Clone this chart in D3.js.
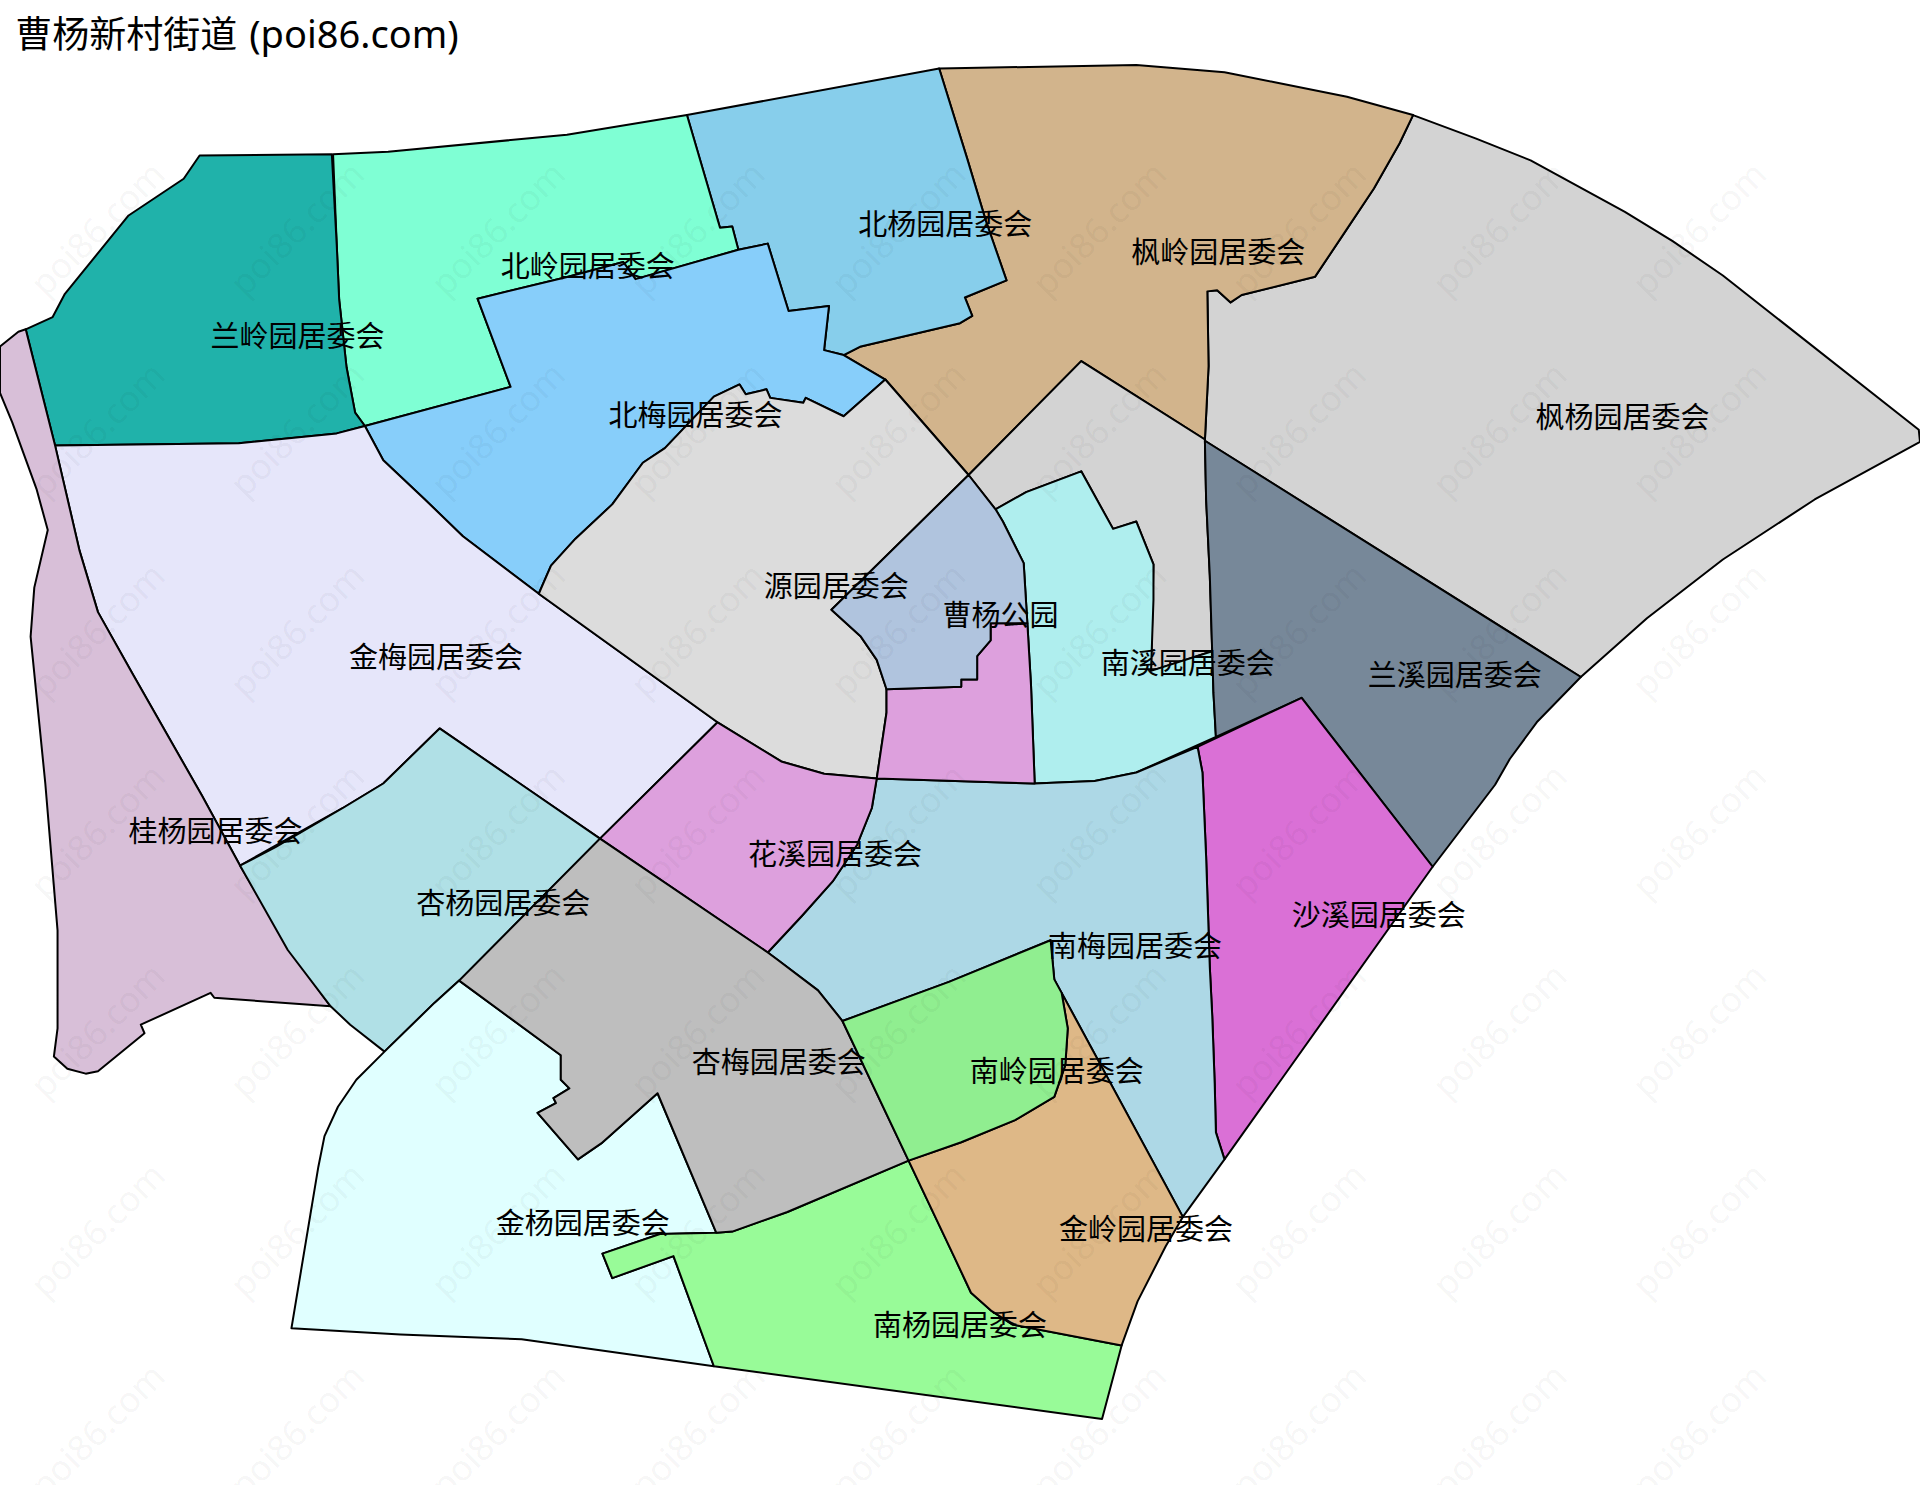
<!DOCTYPE html>
<html><head><meta charset="utf-8">
<script src="https://cdnjs.cloudflare.com/ajax/libs/d3/7.8.5/d3.min.js"></script>
<style>html,body{margin:0;padding:0;background:#fff}svg{display:block}</style>
</head><body><svg id="map" width="1920" height="1485"></svg>
<script>
const titleMain = "曹杨新村街道";
const titleSite = " (poi86.com)";
const watermarkText = "poi86.com";
const regionNames = ["枫杨","枫岭","灰","南溪","兰溪","沙溪","南梅","北杨","北岭","北梅","兰岭","金梅","桂杨","杏杨","源园","花溪","曹杨公园","金杨","南杨","杏梅","金岭","南岭"];
const fengyang=[[1154,94],[1205,113],[1250,131],[1327,173],[1366,197],[1407,225],[1567,351],[1568,361],[1482,408],[1407,457],[1345,505],[1291,553],[984,360],[987,299],[986,238],[994,237],[1005,247],[1014,241],[1074,226],[1098,190],[1122,154],[1143,117]];
const fengling=[[767,56],[928,53],[1000,59],[1040,67],[1100,79],[1154,94],[1143,117],[1122,154],[1098,190],[1074,226],[1014,241],[1005,247],[994,237],[986,238],[987,299],[984,359],[883,295],[791,388],[723,310],[689,290],[703,283],[784,264],[794,258],[788,243],[822,229],[805,180],[790,130]];
const huiqu=[[883,295],[984,359],[985,408],[988,470],[990,532],[940,548],[942,461],[928,426],[909,432],[883,385],[838,402],[813,416],[791,388]];
const nanxi=[[813,416],[838,402],[883,385],[909,432],[928,426],[942,461],[942,490],[940,548],[990,532],[991,566],[993,602],[928,631],[894,638],[845,640],[842,560],[839,509],[836,460],[819,426]];
const lanxi=[[984,360],[1291,553],[1255,590],[1233,620],[1221,641],[1170,708],[1063,570],[993,602],[991,566],[988,470],[985,408]];
const shaxi=[[1063,570],[1170,708],[1000,947],[993,925],[992,885],[990,830],[988,790],[985,700],[982,631],[978,610]];
const nanmei=[[716,636],[845,640],[894,638],[928,631],[978,610],[982,631],[985,700],[988,790],[990,830],[992,885],[993,925],[1000,947],[966,994],[867,811],[861,800],[858,768],[775,802],[688,834],[668,809],[635,784],[627,778],[655,748],[680,720],[700,690],[712,660]];
const beiyang=[[561,94],[767,56],[790,130],[805,180],[822,229],[788,243],[794,258],[784,264],[703,283],[689,290],[673,286],[677,250],[644,254],[627,199],[603,204],[598,185],[588,186]];
const beiling=[[272,126],[317,124],[463,110],[561,94],[588,186],[598,185],[603,204],[519,228],[509,214],[464,226],[390,244],[417,316],[298,348],[290,337],[283,300],[277,245],[275,200]];
const beimei=[[390,244],[464,226],[509,214],[519,228],[603,204],[627,199],[644,254],[677,250],[673,286],[689,290],[723,310],[689,340],[658,325],[656,329],[629,325],[626,318],[609,322],[604,314],[583,324],[543,366],[525,378],[500,412],[470,440],[450,462],[440,485],[378,438],[347,408],[313,376],[298,348],[417,316]];
const lanling=[[21,269],[43,259],[53,240],[105,176],[150,146],[163,127],[271,126],[275,200],[277,245],[283,300],[290,337],[298,348],[275,354],[195,362],[45,364]];
const jinmei=[[45,364],[195,362],[275,354],[298,348],[313,376],[347,408],[378,438],[440,485],[586,590],[490,685],[359,595],[313,640],[280,660],[196,707],[165,650],[108,550],[80,500],[65,450]];
const guiyang=[[21,269],[45,364],[65,450],[80,500],[108,550],[165,650],[196,707],[238,778],[270,822],[175,815],[172,811],[115,837],[118,844],[80,875],[70,877],[55,873],[44,863],[47,840],[47,760],[37,640],[25,520],[28,480],[39,433],[30,400],[10,345],[0,321],[0,283],[15,271]];
const xingyang=[[359,595],[490,685],[375,801],[355,819],[314,859],[286,837],[270,822],[235,776],[196,707],[225,692],[280,660],[313,640]];
const yuan=[[723,310],[791,388],[679,498],[703,520],[716,539],[724,563],[724,582],[716,636],[673,632],[638,622],[586,590],[440,485],[450,462],[470,440],[500,412],[525,378],[543,366],[583,324],[604,314],[609,322],[626,318],[629,325],[656,329],[658,325],[689,340]];
const huaxiA=[[586,590],[638,622],[673,632],[716,636],[712,660],[700,690],[680,720],[655,748],[627,778],[490,685]];
const huaxiB=[[724,563],[785,561],[785,555],[798,555],[798,536],[809,523],[809,509],[839,509],[842,560],[845,640],[716,636],[724,582]];
const park=[[791,388],[813,416],[819,426],[836,460],[839,509],[809,509],[809,523],[798,536],[798,555],[785,555],[785,561],[724,563],[716,539],[703,520],[679,498]];
const jinyang=[[375,801],[458,862],[458,882],[465,889],[452,897],[454,901],[439,909],[472,947],[491,934],[537,893],[585,1007],[539,1008],[492,1024],[500,1044],[550,1026],[583,1116],[426,1094],[327,1090],[238,1085],[260,953],[265,928],[276,904],[291,882],[314,859],[355,819]];
const nanyang=[[585,1007],[598,1006],[643,990],[742,948],[779,1026],[793,1056],[810,1071],[827,1082],[916,1099],[900,1159],[583,1116],[550,1026],[500,1044],[492,1024],[539,1008]];
const xingmei=[[490,685],[627,778],[635,784],[668,809],[688,834],[742,948],[643,990],[598,1006],[585,1007],[537,893],[491,934],[472,947],[439,909],[454,901],[452,897],[465,889],[458,882],[458,862],[375,801]];
const jinling=[[867,811],[966,994],[952,1018],[929,1063],[916,1099],[827,1082],[810,1071],[793,1056],[779,1026],[742,948],[785,933],[829,915],[861,896],[870,870],[872,840]];
const nanling=[[688,834],[775,802],[858,768],[861,800],[867,811],[872,840],[870,870],[861,896],[829,915],[785,933],[742,948]];
const regionRings=[[fengyang],[fengling],[huiqu],[nanxi],[lanxi],[shaxi],[nanmei],[beiyang],[beiling],[beimei],[lanling],[jinmei],[guiyang],[xingyang],[yuan],[huaxiA,huaxiB],[park],[jinyang],[nanyang],[xingmei],[jinling],[nanling]];
const regionColors=["#D3D3D3","#D2B48C","#D3D3D3","#AFEEEE","#778899","#DA70D6","#ADD8E6","#87CEEB","#7FFFD4","#87CEFA","#20B2AA","#E6E6FA","#D8BFD8","#B0E0E6","#DCDCDC","#DDA0DD","#B0C4DE","#E0FFFF","#98FB98","#BEBEBE","#DEB887","#90EE90"];
const labelNames=["兰岭园居委会","北岭园居委会","北杨园居委会","枫岭园居委会","枫杨园居委会","北梅园居委会","源园居委会","曹杨公园","南溪园居委会","兰溪园居委会","金梅园居委会","桂杨园居委会","花溪园居委会","杏杨园居委会","沙溪园居委会","南梅园居委会","杏梅园居委会","南岭园居委会","金杨园居委会","金岭园居委会","南杨园居委会"];
const labelX=[243,480,772,995,1325,568,683,817,970,1188,356,176,682,411,1126,927,636,863,476,936,784];
const labelY=[273,216,181,204,339,337,477,501,540,550,535,677,696,736,746,771,866,873,997,1002,1081];
const markX=[79,242,406,569,733,897,1060,1224,1387];
const markY=[186,350,514,678,841,1004,1168];

const x=d3.scaleLinear().domain([0,1568]).range([0,1920]);
const y=d3.scaleLinear().domain([0,1213]).range([0,1485]);
const line=d3.line().x(d=>x(d[0])).y(d=>y(d[1])).curve(d3.curveLinearClosed);
const svg=d3.select("#map");
const cjk='"Noto Sans CJK SC",sans-serif';

svg.append("g").selectAll("path").data(regionRings).join("path")
  .attr("d",r=>r.map(line).join(""))
  .attr("fill",(r,i)=>regionColors[i])
  .attr("stroke","#000").attr("stroke-width",2).attr("stroke-linejoin","round")
  .append("title").text((r,i)=>regionNames[i]);

const cells=d3.cross(markX,markY);
svg.append("g").selectAll("text").data(cells).join("text")
  .attr("transform",d=>`translate(${x(d[0])},${y(d[1])}) rotate(-45)`)
  .attr("text-anchor","middle").attr("dominant-baseline","central")
  .attr("font-family",'"Noto Sans",sans-serif').attr("font-size",35)
  .attr("fill","#000").attr("fill-opacity",0.05).text(watermarkText);

svg.append("g").selectAll("text").data(labelNames).join("text")
  .attr("x",(d,i)=>x(labelX[i])).attr("y",(d,i)=>y(labelY[i]))
  .attr("text-anchor","middle").attr("dominant-baseline","central")
  .attr("font-family",cjk).attr("font-size",29).attr("fill","#000").text(d=>d);

const title=svg.append("text").attr("x",x(12.5)).attr("y",y(39.5))
  .attr("font-family",'"Noto Sans","Noto Sans CJK SC",sans-serif').attr("font-size",37).attr("fill","#000").attr("xml:space","preserve");
title.append("tspan").text(titleMain);
title.append("tspan").attr("font-size",38).attr("dx",2).text(titleSite);
</script></body></html>
